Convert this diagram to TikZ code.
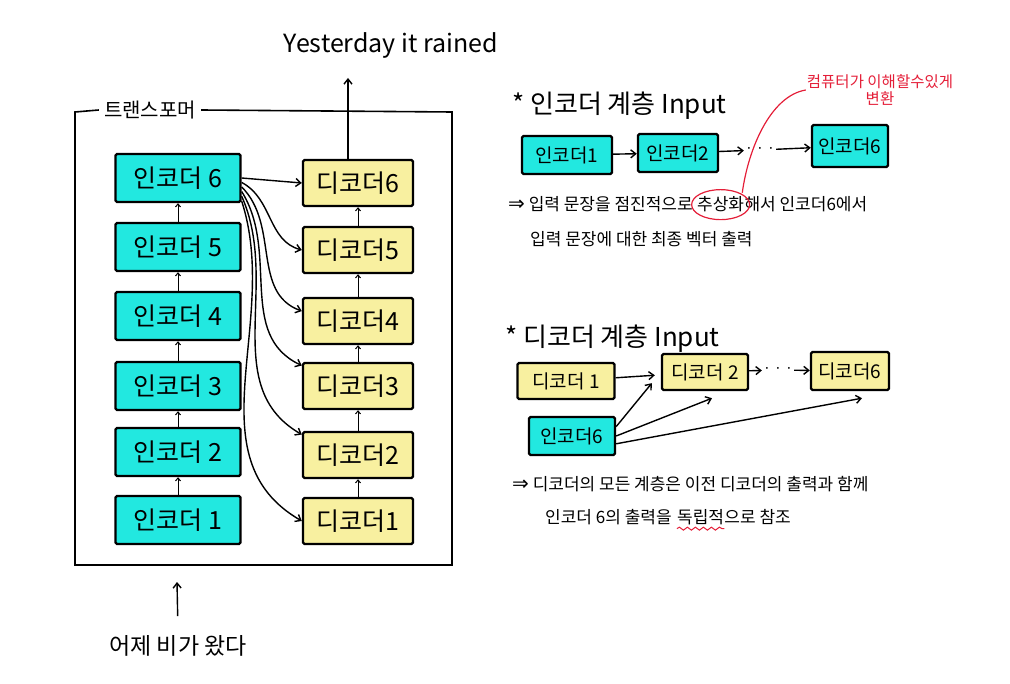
\documentclass[tikz,border=0pt]{standalone}
\usepackage{fontspec}
\setmainfont{Noto Sans CJK KR}
\newfontfamily\symfont{DejaVu Sans}
\usepackage{xcolor}
\usetikzlibrary{arrows.meta, positioning, decorations.pathmorphing}

\definecolor{enccyan}{RGB}{34,232,224}
\definecolor{decyellow}{RGB}{248,240,160}
\definecolor{notered}{RGB}{228,30,56}

\newcommand{\impl}{{\symfont\fontsize{20}{20}\selectfont ⇒}}

\begin{document}
\begin{tikzpicture}[x=1pt, y=1pt,
    encbox/.style={rectangle, draw, line width=2.4pt, fill=enccyan, rounded corners=1.5pt, text centered},
    decbox/.style={rectangle, draw, line width=2.4pt, fill=decyellow, rounded corners=1.5pt, text centered},
    stackbox/.style={minimum height=48pt, font=\fontsize{25}{28}\selectfont},
    smallbox/.style={minimum height=38pt, inner sep=2pt, font=\fontsize{19}{22}\selectfont},
    title/.style={font=\fontsize{26}{30}\selectfont, inner sep=0pt},
    note/.style={font=\fontsize{17}{20}\selectfont, inner sep=0pt},
    rednote/.style={font=\fontsize{15.5}{17}\selectfont, text=notered, align=center, inner sep=1pt},
    flow/.style={-{Straight Barb[length=5pt, width=8pt]}, line width=1.4pt},
    upflow/.style={-{Straight Barb[length=3pt, width=5pt]}, line width=1pt},
    ring/.style={draw=notered, line width=1.2pt},
    wavy/.style={notered, line width=1pt, decorate, decoration={snake, amplitude=1.5pt, segment length=8pt}},
  ]
    \useasboundingbox (0,0) rectangle (1010,-684);

    % Transformer frame
    \node[font=\fontsize{20}{22}\selectfont, inner sep=5pt] (tf) at (150,-110) {트랜스포머};
    \draw[line width=1.6pt] (tf.west) -- (75,-112) -- (75,-565) -- (452,-565) -- (452,-112) -- (tf.east);

    % Encoder stack
    \node[encbox, stackbox, minimum width=125pt] (e6) at (178,-178) {인코더 6};
    \node[encbox, stackbox, minimum width=125pt] (e5) at (178,-247) {인코더 5};
    \node[encbox, stackbox, minimum width=125pt] (e4) at (178,-316) {인코더 4};
    \node[encbox, stackbox, minimum width=125pt] (e3) at (178,-386) {인코더 3};
    \node[encbox, stackbox, minimum width=125pt] (e2) at (178,-452) {인코더 2};
    \node[encbox, stackbox, minimum width=125pt] (e1) at (178,-520) {인코더 1};

    % Decoder stack
    \node[decbox, stackbox, minimum width=110pt, minimum height=46pt] (d6) at (358,-183) {디코더6};
    \node[decbox, stackbox, minimum width=110pt, minimum height=46pt] (d5) at (358,-250) {디코더5};
    \node[decbox, stackbox, minimum width=110pt, minimum height=46pt] (d4) at (358,-321) {디코더4};
    \node[decbox, stackbox, minimum width=110pt, minimum height=46pt] (d3) at (358,-386) {디코더3};
    \node[decbox, stackbox, minimum width=110pt, minimum height=46pt] (d2) at (358,-455) {디코더2};
    \node[decbox, stackbox, minimum width=110pt, minimum height=46pt] (d1) at (358,-521) {디코더1};

    % Input and output
    \node[font=\fontsize{25}{28}\selectfont] (out) at (391,-45) {Yesterday it rained};
    \node[font=\fontsize{23}{26}\selectfont] (in) at (178,-646) {어제 비가 왔다};
    \coordinate (outtip) at (348,-78);
    \coordinate (intip) at (177,-582);
    \draw[flow] ([xshift=-10pt]d6.north) -- (outtip);
    \draw[flow, shorten <=16pt] (in.north) -- (intip);

    % Stack arrows
    \draw[upflow] (e1) -- (e2);
    \draw[upflow] (e2) -- (e3);
    \draw[upflow] (e3) -- (e4);
    \draw[upflow] (e4) -- (e5);
    \draw[upflow] (e5) -- (e6);
    \draw[upflow] (d1) -- (d2);
    \draw[upflow] (d2) -- (d3);
    \draw[upflow] (d3) -- (d4);
    \draw[upflow] (d4) -- (d5);
    \draw[upflow] (d5) -- (d6);

    % Encoder 6 to every decoder
    \draw[flow] (e6.east) -- (d6.west);
    \draw[flow] (e6.-4) to[out=-28, in=165] (d5.west);
    \draw[flow] (e6.-8) to[out=-45, in=160] (d4.170);
    \draw[flow] (e6.-12) to[out=-58, in=155] (d3.160);
    \draw[flow] (e6.-16) to[out=-66, in=150] (d2.160);
    \draw[flow] (e6.-20) to[out=-72, in=150] (d1.west);

    % Encoder layer input
    \node[title, anchor=west] (t1) at (512,-106) {* 인코더 계층 Input};
    \node[encbox, smallbox, minimum width=90pt] (a1) at (567,-155) {인코더1};
    \node[encbox, smallbox, minimum width=80pt] (a2) at (678,-153) {인코더2};
    \node[inner sep=1pt, font=\fontsize{14}{16}\selectfont] (adots) at (760,-150) {· · ·};
    \node[encbox, smallbox, minimum width=76pt, minimum height=42pt] (a6) at (850,-146) {인코더6};
    \draw[flow] (a1) -- (a2);
    \draw[flow] (a2) -- (adots);
    \draw[flow] (adots) -- (a6);

    \node[note, anchor=base west] (l1a) at (508,-211) {\impl{} 입력 문장을 점진적으로};
    \node[note, anchor=base west] (l1b) at ([xshift=4pt]l1a.base east) {추상화};
    \node[note, anchor=base west] (l1c) at (l1b.base east) {해서 인코더6에서};
    \node[note, anchor=base west] (l2) at (530,-246) {입력 문장에 대한 최종 벡터 출력};
    \draw[ring] (l1b.center) ellipse (29pt and 15pt);
    \node[rednote] (rn) at (880,-90) {컴퓨터가 이해할수있게\\변환};
    \draw[ring] ([xshift=-2pt,yshift=4pt]l1b.north east) .. controls (748,-150) and (770,-96) .. (rn.west);

    % Decoder layer input
    \node[title, anchor=west] (t2) at (505,-339) {* 디코더 계층 Input};
    \node[decbox, smallbox, minimum width=97pt, minimum height=36pt] (b1) at (566,-381) {디코더 1};
    \node[decbox, smallbox, minimum width=86pt, minimum height=36pt] (b2) at (705,-372) {디코더 2};
    \node[inner sep=1pt, font=\fontsize{14}{16}\selectfont] (bdots) at (778,-370) {· · ·};
    \node[decbox, smallbox, minimum width=78pt, minimum height=38pt] (b6) at (850,-371) {디코더6};
    \node[encbox, smallbox, minimum width=86pt, minimum height=38pt] (c6) at (572,-436) {인코더6};
    \draw[flow, shorten >=6pt] (b1) -- (b2);
    \draw[flow] (b2) -- (bdots);
    \draw[flow] (bdots) -- (b6);
    \draw[flow] (c6.12) -- ([xshift=-9pt,yshift=8pt]b2.south west);
    \draw[flow] (c6.0) -- ([xshift=7pt,yshift=-7pt]b2.south);
    \draw[flow] (c6.-10) -- ([xshift=12pt,yshift=-7pt]b6.south);

    \node[note, anchor=base west] (l3) at (512,-490) {\impl{} 디코더의 모든 계층은 이전 디코더의 출력과 함께};
    \node[note, anchor=base west] (l4a) at (545,-523) {인코더 6의 출력을};
    \node[note, anchor=base west] (l4b) at ([xshift=5pt]l4a.base east) {독립적};
    \node[note, anchor=base west] (l4c) at (l4b.base east) {으로 참조};
    \draw[wavy] ([yshift=-4pt]l4b.south west) -- ([yshift=-4pt]l4b.south east);
\end{tikzpicture}
\end{document}
